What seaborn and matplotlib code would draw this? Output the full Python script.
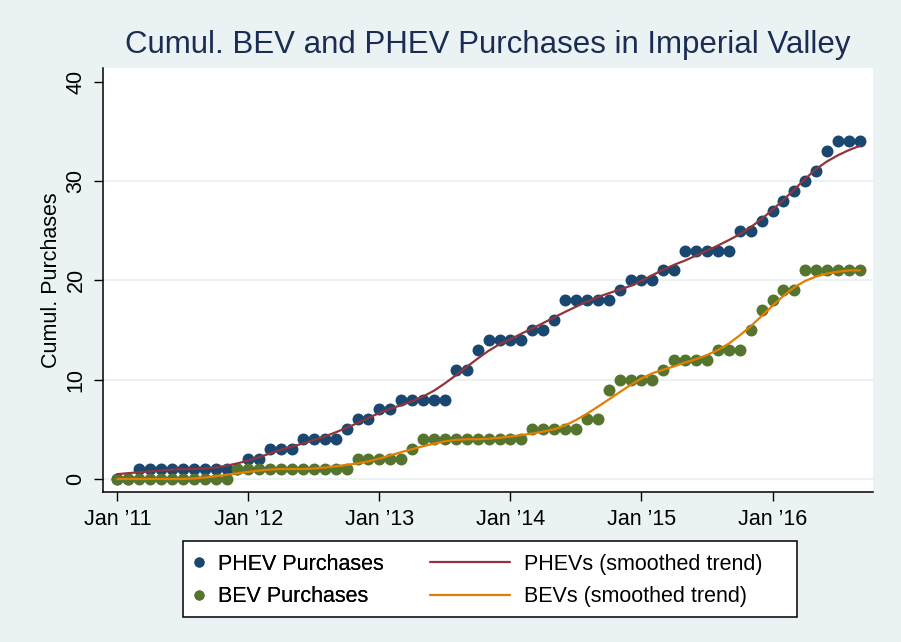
import numpy as np
import pandas as pd
import matplotlib
matplotlib.use("Agg")
import matplotlib.pyplot as plt
from matplotlib.lines import Line2D
from matplotlib.patches import Rectangle
import seaborn as sns

# Monthly cumulative purchases, Jan 2011 .. Sep 2016 (month index 0 = Jan 2011)
months = list(range(69))
phev = [0, 0, 1, 1, 1, 1, 1, 1, 1, 1, 1, 1, 2, 2, 3, 3, 3, 4, 4, 4,
        4, 5, 6, 6, 7, 7, 8, 8, 8, 8, 8, 11, 11, 13, 14, 14, 14, 14, 15, 15,
        16, 18, 18, 18, 18, 18, 19, 20, 20, 20, 21, 21, 23, 23, 23, 23, 23, 25, 25, 26,
        27, 28, 29, 30, 31, 33, 34, 34, 34]
bev = [0, 0, 0, 0, 0, 0, 0, 0, 0, 0, 0, 1, 1, 1, 1, 1, 1, 1, 1, 1,
       1, 1, 2, 2, 2, 2, 2, 3, 4, 4, 4, 4, 4, 4, 4, 4, 4, 4, 5, 5,
       5, 5, 5, 6, 6, 9, 10, 10, 10, 10, 11, 12, 12, 12, 12, 13, 13, 13, 15, 17,
       18, 19, 19, 21, 21, 21, 21, 21, 21]

tick_months = [0, 12, 24, 36, 48, 60]
tick_labels = ["Jan \u201911", "Jan \u201912", "Jan \u201913", "Jan \u201914", "Jan \u201915", "Jan \u201916"]
y_ticks = [0, 10, 20, 30, 40]


def kernel_smooth(x, y, h=5.0):
    """Local-mean smoother with an Epanechnikov kernel of half-width h."""
    x = np.asarray(x, float)
    y = np.asarray(y, float)
    out = np.empty(len(x))
    for i, xi in enumerate(x):
        u = (x - xi) / h
        w = np.clip(1 - u ** 2, 0, None)
        out[i] = (w * y).sum() / w.sum()
    return out


df = pd.DataFrame({"month": months, "phev": phev, "bev": bev})
df["phev_s"] = kernel_smooth(df["month"], df["phev"])
df["bev_s"] = kernel_smooth(df["month"], df["bev"])

BG = "#EAF2F3"
NAVY = "#1A476F"
GREEN = "#55752F"
MAROON = "#90353B"
ORANGE = "#E37E00"

sns.set_theme(style="white")
plt.rcParams["font.family"] = ["Liberation Sans", "DejaVu Sans"]

W, H = 901, 642
fig = plt.figure(figsize=(W / 100, H / 100), dpi=100, facecolor=BG)
ax = fig.add_axes([103 / W, 1 - 492 / H, (873 - 103) / W, (492 - 67.7) / H])
ax.set_facecolor("white")

for yv in [0, 10, 20, 30]:
    ax.axhline(yv, color=BG, lw=1.4, zorder=0)

sns.scatterplot(data=df, x="month", y="phev", ax=ax, color=NAVY, s=74,
                linewidth=0, zorder=2, legend=False)
sns.scatterplot(data=df, x="month", y="bev", ax=ax, color=GREEN, s=74,
                linewidth=0, zorder=2, legend=False)
sns.lineplot(data=df, x="month", y="phev_s", ax=ax, color=MAROON, lw=1.6,
             zorder=3, legend=False)
sns.lineplot(data=df, x="month", y="bev_s", ax=ax, color=ORANGE, lw=1.6,
             zorder=3, legend=False)

ax.set_xlim(-1.31, 69.2)
ax.set_ylim(-1.31, 41.41)
ax.set_xticks(tick_months)
ax.set_xticklabels(tick_labels)
ax.set_yticks(y_ticks)
ax.set_yticklabels([str(v) for v in y_ticks], rotation=90, va="center")
ax.tick_params(axis="both", labelsize=15.5, colors="black", labelcolor="black",
               direction="out", length=6.5, width=1, bottom=True, left=True)
ax.tick_params(axis="x", pad=6)
ax.tick_params(axis="y", pad=5.4)
ax.set_xlabel("")
ax.set_ylabel("Cumul. Purchases", fontsize=15.5, labelpad=2.6, color="black")

for side in ["top", "right"]:
    ax.spines[side].set_visible(False)
for side in ["left", "bottom"]:
    ax.spines[side].set_color("black")
    ax.spines[side].set_linewidth(1.1)

fig.text(488 / W, 1 - 45 / H, "Cumul. BEV and PHEV Purchases in Imperial Valley",
         ha="center", va="center", fontsize=22.5, color="#1C2D54")

# Legend box
fig.patches.append(Rectangle((183 / W, 1 - 617 / H), (797 - 183) / W, (617 - 541) / H,
                             transform=fig.transFigure, facecolor="white",
                             edgecolor="black", lw=1.1, zorder=0))

pt_handles = [Line2D([], [], ls="none", marker="o", ms=7.3, mec="none", color=NAVY),
              Line2D([], [], ls="none", marker="o", ms=7.3, mec="none", color=GREEN)]
ln_handles = [Line2D([], [], color=MAROON, lw=1.6),
              Line2D([], [], color=ORANGE, lw=1.6)]

leg1 = fig.legend(pt_handles, ["PHEV Purchases", "BEV Purchases"],
                  loc="center left", bbox_to_anchor=(190.4 / W, 1 - 580.5 / H),
                  frameon=False, fontsize=15.5, handlelength=0.8,
                  handletextpad=0.48, borderpad=0, borderaxespad=0,
                  labelspacing=0.55, labelcolor="black")
leg2 = fig.legend(ln_handles, ["PHEVs (smoothed trend)", "BEVs (smoothed trend)"],
                  loc="center left", bbox_to_anchor=(430 / W, 1 - 580.5 / H),
                  frameon=False, fontsize=15.5, handlelength=80 / 21.5,
                  handletextpad=14 / 21.5, borderpad=0, borderaxespad=0,
                  labelspacing=0.55, labelcolor="black")
fig.add_artist(leg1)

fig.savefig("out.png", dpi=100, facecolor=BG)
